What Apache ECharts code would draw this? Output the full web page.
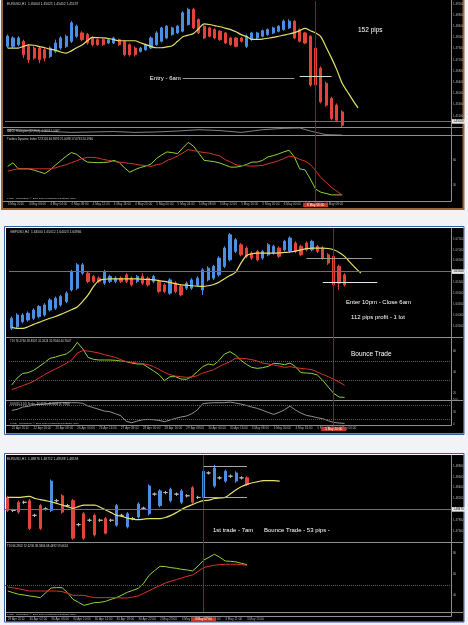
<!DOCTYPE html>
<html>
<head>
<meta charset="utf-8">
<script src="https://cdn.jsdelivr.net/npm/echarts@6.0.0/dist/echarts.min.js"></script>
<style>
html,body{margin:0;padding:0;background:#f1f3f7;}
#chart{width:468px;height:625px;}
</style>
</head>
<body>
<div id="chart"></div>
<script>
// ---- panel 1 : EURUSD H1, the 6am drop ----
var candles1 = [
  [1.4768,1.4804,1.4762,1.4810],[1.4768,1.4798,1.4762,1.4804],[1.4774,1.4798,1.4768,1.4804],
  [1.4786,1.4738,1.4726,1.4792],[1.4768,1.4720,1.4708,1.4774],[1.4762,1.4726,1.4720,1.4768],
  [1.4762,1.4720,1.4708,1.4768],[1.4756,1.4726,1.4714,1.4762],[1.4732,1.4762,1.4726,1.4768],
  [1.4750,1.4780,1.4744,1.4792],[1.4762,1.4798,1.4756,1.4804],[1.4768,1.4804,1.4762,1.4810],
  [1.4786,1.4852,1.4780,1.4858],[1.4804,1.4840,1.4798,1.4846],[1.4816,1.4792,1.4786,1.4822],
  [1.4810,1.4780,1.4774,1.4816],[1.4798,1.4774,1.4768,1.4804],[1.4792,1.4774,1.4770,1.4796],
  [1.4792,1.4774,1.4770,1.4796],[1.4780,1.4792,1.4776,1.4796],[1.4780,1.4798,1.4776,1.4802],
  [1.4792,1.4774,1.4770,1.4796],[1.4786,1.4738,1.4732,1.4788],[1.4774,1.4738,1.4732,1.4778],
  [1.4762,1.4738,1.4732,1.4768],[1.4750,1.4762,1.4746,1.4766],[1.4756,1.4774,1.4752,1.4778],
  [1.4762,1.4798,1.4758,1.4804],[1.4774,1.4816,1.4770,1.4822],[1.4786,1.4834,1.4782,1.4838],
  [1.4798,1.4840,1.4794,1.4844],[1.4810,1.4834,1.4806,1.4838],[1.4816,1.4840,1.4812,1.4844],
  [1.4822,1.4888,1.4818,1.4894],[1.4846,1.4900,1.4842,1.4906],[1.4900,1.4834,1.4830,1.4906],
  [1.4864,1.4816,1.4812,1.4868],[1.4840,1.4798,1.4794,1.4844],[1.4834,1.4804,1.4800,1.4838],
  [1.4828,1.4798,1.4794,1.4832],[1.4822,1.4792,1.4788,1.4826],[1.4816,1.4780,1.4776,1.4820],
  [1.4798,1.4774,1.4770,1.4802],[1.4798,1.4768,1.4764,1.4802],[1.4798,1.4786,1.4782,1.4802],
  [1.4768,1.4804,1.4762,1.4810],[1.4792,1.4816,1.4788,1.4820],[1.4798,1.4816,1.4794,1.4820],
  [1.4804,1.4824,1.4800,1.4828],[1.4810,1.4828,1.4806,1.4832],[1.4816,1.4834,1.4812,1.4838],
  [1.4822,1.4840,1.4818,1.4844],[1.4828,1.4858,1.4824,1.4864],[1.4834,1.4858,1.4830,1.4864],
  [1.4858,1.4798,1.4794,1.4862],[1.4828,1.4786,1.4782,1.4832],[1.4816,1.4780,1.4776,1.4820],
  [1.4804,1.4630,1.4624,1.4808],[1.4762,1.4630,1.4618,1.4768],[1.4690,1.4570,1.4564,1.4696],
  [1.4636,1.4558,1.4552,1.4642],[1.4582,1.4510,1.4504,1.4588],[1.4558,1.4504,1.4498,1.4564],
  [1.4534,1.4486,1.4480,1.4540]
];
var ma1 = [1.4762,1.4762,1.4762,1.4768,1.4773,1.4772,1.4767,1.4763,1.4758,1.4754,
  1.4748,1.4744,1.4752,1.4763,1.4773,1.4788,1.4800,1.4799,1.4798,1.4796,
  1.4792,1.4788,1.4788,1.4788,1.4788,1.4781,1.4774,1.4768,1.4763,1.4763,
  1.4766,1.4770,1.4786,1.4802,1.4808,1.4814,1.4832,1.4848,1.4846,1.4842,
  1.4838,1.4833,1.4828,1.4820,1.4810,1.4803,1.4793,1.4793,1.4794,1.4797,
  1.4800,1.4804,1.4808,1.4812,1.4817,1.4824,1.4832,1.4824,1.4816,1.4802,
  1.4764,1.4726,1.4684,1.4636,1.4606,1.4576,1.4548];
var small1 = [[0,70],[4,65],[8,50],[12,40],[16,45],[20,50],[24,40],[28,45],[32,55],
  [36,70],[40,60],[44,40],[48,70],[52,85],[55,90],[57,55],[60,15],[63,10]];
var green1 = [52.5,57.1,49.6,49.6,49.6,47.9,45.8,43.7,48.3,54.2,
  59.6,65.0,69.6,67.5,62.1,57.9,57.5,57.1,57.5,57.9,
  60.0,57.5,50.8,45.4,48.7,51.2,52.9,55.4,62.1,66.7,
  70.4,69.6,68.3,75.4,82.1,77.5,68.8,60.0,59.2,58.3,
  56.7,54.2,51.7,51.7,52.9,55.0,57.9,57.9,60.0,64.2,
  65.8,67.9,70.4,72.5,64.2,49.6,48.3,37.1,24.6,20.8,
  19.2,17.5,17.5,17.5];
var red1 = [46.7,48.3,49.6,49.6,49.6,49.6,49.6,49.6,49.6,50.8,
  52.9,54.6,57.1,59.6,62.1,63.7,63.7,62.9,61.2,60.0,
  58.7,57.9,57.1,56.2,55.4,54.2,53.7,52.5,54.6,55.8,
  60.0,62.1,65.4,69.2,73.3,72.1,70.8,69.6,68.8,67.1,
  65.4,60.8,57.9,54.6,53.7,53.3,52.9,53.3,53.7,55.8,
  57.5,59.6,62.1,65.4,64.2,61.2,59.2,55.0,47.5,38.7,
  32.9,26.7,22.1,17.5];
var timeLabels1 = ['3 May 2010','4 May 00:00','4 May 04:00','4 May 08:00','4 May 12:00','4 May 16:00',
  '4 May 20:00','5 May 00:00','5 May 04:00','5 May 08:00','5 May 12:00','5 May 16:00',
  '5 May 20:00','6 May 00:00','6 May 04:00','6 May 08:00'];

// ---- panel 2 : GBPUSD H4 ----
var candles2 = [
  [1.6340,1.6386,1.6332,1.6394],[1.6347,1.6401,1.6340,1.6409],[1.6370,1.6401,1.6363,1.6409],
  [1.6378,1.6409,1.6370,1.6417],[1.6386,1.6424,1.6378,1.6432],[1.6394,1.6440,1.6386,1.6447],
  [1.6401,1.6447,1.6394,1.6455],[1.6424,1.6470,1.6417,1.6478],[1.6432,1.6478,1.6424,1.6486],
  [1.6447,1.6486,1.6440,1.6493],[1.6463,1.6501,1.6455,1.6509],[1.6516,1.6601,1.6509,1.6608],
  [1.6524,1.6631,1.6516,1.6639],[1.6593,1.6631,1.6585,1.6639],[1.6593,1.6555,1.6547,1.6601],
  [1.6578,1.6555,1.6547,1.6585],[1.6570,1.6555,1.6547,1.6578],[1.6547,1.6601,1.6539,1.6608],
  [1.6555,1.6578,1.6547,1.6585],[1.6555,1.6570,1.6547,1.6578],[1.6570,1.6555,1.6547,1.6578],
  [1.6585,1.6555,1.6547,1.6593],[1.6570,1.6539,1.6532,1.6578],[1.6555,1.6578,1.6547,1.6585],
  [1.6578,1.6547,1.6539,1.6593],[1.6570,1.6539,1.6532,1.6578],[1.6555,1.6578,1.6547,1.6585],
  [1.6555,1.6509,1.6501,1.6562],[1.6539,1.6509,1.6501,1.6547],[1.6501,1.6562,1.6493,1.6570],
  [1.6547,1.6509,1.6501,1.6555],[1.6532,1.6493,1.6486,1.6539],[1.6524,1.6547,1.6516,1.6555],
  [1.6524,1.6562,1.6516,1.6570],[1.6539,1.6570,1.6532,1.6578],[1.6516,1.6608,1.6493,1.6616],
  [1.6562,1.6616,1.6555,1.6624],[1.6570,1.6624,1.6562,1.6631],[1.6585,1.6662,1.6578,1.6670],
  [1.6624,1.6708,1.6616,1.6716],[1.6654,1.6769,1.6647,1.6777],[1.6693,1.6746,1.6685,1.6754],
  [1.6723,1.6677,1.6670,1.6731],[1.6708,1.6670,1.6662,1.6716],[1.6685,1.6662,1.6654,1.6693],
  [1.6693,1.6654,1.6647,1.6700],[1.6662,1.6693,1.6654,1.6700],[1.6677,1.6723,1.6670,1.6731],
  [1.6685,1.6716,1.6677,1.6723],[1.6708,1.6670,1.6662,1.6716],[1.6700,1.6739,1.6693,1.6746],
  [1.6693,1.6754,1.6685,1.6762],[1.6731,1.6693,1.6685,1.6739],[1.6716,1.6677,1.6670,1.6723],
  [1.6731,1.6700,1.6693,1.6739],[1.6700,1.6739,1.6693,1.6746],[1.6716,1.6693,1.6685,1.6723],
  [1.6708,1.6662,1.6654,1.6716],[1.6677,1.6639,1.6631,1.6685],[1.6670,1.6539,1.6524,1.6677],
  [1.6624,1.6547,1.6516,1.6631],[1.6585,1.6539,1.6532,1.6593]
];
var ma2 = [1.6344,1.6340,1.6340,1.6347,1.6358,1.6367,1.6377,1.6386,1.6394,1.6404,
  1.6415,1.6426,1.6438,1.6463,1.6493,1.6532,1.6559,1.6565,1.6567,1.6567,
  1.6567,1.6567,1.6567,1.6567,1.6565,1.6564,1.6562,1.6559,1.6555,1.6550,
  1.6545,1.6539,1.6538,1.6535,1.6533,1.6532,1.6535,1.6541,1.6551,1.6567,
  1.6582,1.6596,1.6639,1.6673,1.6682,1.6685,1.6685,1.6685,1.6685,1.6686,
  1.6688,1.6690,1.6694,1.6700,1.6705,1.6708,1.6708,1.6708,1.6706,1.6700,
  1.6688,1.6670,1.6642,1.6616,1.6593];
var green2 = [27.9,34.5,38.9,39.6,41.8,45.3,49.1,53.2,54.4,56.0,
  57.3,61.1,68.3,62.3,54.1,52.2,51.6,51.6,51.6,51.3,
  50.6,50.0,48.7,47.8,47.8,44.6,41.2,37.7,32.0,35.8,
  35.8,33.6,33.3,35.8,40.5,45.3,47.8,46.8,51.3,57.3,
  59.5,56.3,51.3,47.5,44.6,43.7,44.3,45.6,48.4,48.1,
  47.2,48.7,45.3,39.6,39.3,38.9,37.4,32.3,26.0,20.0,
  16.5,16.2];
var red2 = [23.5,25.4,27.3,29.2,31.4,34.5,37.7,40.5,43.1,45.6,
  48.4,51.6,58.2,60.4,60.1,59.2,58.2,56.6,55.4,54.1,
  51.9,50.0,49.4,48.7,48.1,47.2,45.3,42.7,39.9,37.7,
  36.4,35.8,35.2,35.5,36.7,39.3,40.8,42.4,45.3,47.8,
  50.0,53.2,53.2,52.8,51.9,50.6,48.7,47.8,46.8,45.9,
  44.6,45.3,44.3,43.7,43.1,42.4,40.2,38.0,35.8,33.3,
  30.7,27.6];
var dss2 = [58.6,62.9,72.9,75.7,81.4,84.3,85.7,88.6,90.0,91.4,
  91.4,91.4,91.4,88.6,77.1,70.0,62.9,55.7,52.9,44.3,
  35.7,11.4,5.7,12.9,18.6,20.0,18.6,15.7,10.0,17.1,
  24.3,30.0,34.3,44.3,60.0,87.1,90.0,91.4,91.4,91.4,
  94.3,90.0,85.7,80.0,72.9,67.1,58.6,50.0,41.4,50.0,
  61.4,77.1,60.0,47.1,37.1,32.9,27.1,22.9,14.3,7.1,
  4.3,2.9];
var timeLabels2 = ['22 Apr 2010','22 Apr 16:00','23 Apr 08:00','26 Apr 00:00','26 Apr 16:00','27 Apr 08:00',
  '28 Apr 00:00','28 Apr 16:00','29 Apr 08:00','30 Apr 00:00','30 Apr 16:00','3 May 08:00',
  '4 May 00:00','4 May 16:00','5 May 08:00','6 May 00:00'];

// ---- panel 3 : EURUSD H1, 1st trade 7am ----
var bars3 = [
  [1.4822,1.4798,1.4795,1.4825],[1.4798,1.4798,1.4795,1.4801],[1.4813,1.4795,1.4792,1.4816],
  [1.4813,1.4813,1.4810,1.4816],[1.4816,1.4765,1.4762,1.4819],[1.4789,1.4789,1.4786,1.4792],
  [1.4807,1.4765,1.4762,1.4810],[1.4801,1.4801,1.4798,1.4804],[1.4798,1.4852,1.4795,1.4855],
  [1.4816,1.4816,1.4813,1.4819],[1.4825,1.4795,1.4792,1.4828],[1.4807,1.4807,1.4804,1.4810],
  [1.4816,1.4747,1.4744,1.4819],[1.4772,1.4772,1.4769,1.4775],[1.4792,1.4747,1.4744,1.4795],
  [1.4780,1.4780,1.4777,1.4783],[1.4789,1.4753,1.4750,1.4792],[1.4780,1.4780,1.4777,1.4783],
  [1.4783,1.4756,1.4754,1.4786],[1.4780,1.4780,1.4777,1.4783],[1.4771,1.4807,1.4768,1.4810],
  [1.4789,1.4789,1.4786,1.4792],[1.4768,1.4792,1.4765,1.4795],[1.4783,1.4783,1.4780,1.4786],
  [1.4786,1.4810,1.4783,1.4813],[1.4802,1.4802,1.4799,1.4805],[1.4792,1.4843,1.4789,1.4846],
  [1.4828,1.4828,1.4825,1.4831],[1.4807,1.4834,1.4804,1.4837],[1.4831,1.4831,1.4828,1.4834],
  [1.4816,1.4837,1.4813,1.4840],[1.4828,1.4828,1.4825,1.4831],[1.4813,1.4834,1.4810,1.4837],
  [1.4825,1.4825,1.4822,1.4828],[1.4840,1.4813,1.4810,1.4843],[1.4822,1.4822,1.4819,1.4825],
  [1.4822,1.4870,1.4819,1.4873],[1.4867,1.4867,1.4864,1.4870],[1.4843,1.4876,1.4840,1.4882],
  [1.4858,1.4858,1.4855,1.4861],[1.4852,1.4870,1.4849,1.4873],[1.4861,1.4861,1.4858,1.4864],
  [1.4852,1.4867,1.4849,1.4870],[1.4858,1.4858,1.4855,1.4861],[1.4858,1.4846,1.4843,1.4861]
];
var ma3 = [1.4822,1.4822,1.4822,1.4823,1.4824,1.4820,1.4818,1.4816,1.4814,1.4811,
  1.4808,1.4805,1.4802,1.4805,1.4808,1.4808,1.4808,1.4804,1.4799,1.4794,
  1.4789,1.4787,1.4784,1.4782,1.4781,1.4782,1.4783,1.4783,1.4783,1.4785,
  1.4789,1.4794,1.4800,1.4805,1.4809,1.4813,1.4816,1.4817,1.4820,1.4821,
  1.4822,1.4829,1.4836,1.4842,1.4846,1.4849,1.4851,1.4853,1.4853,1.4853,1.4852];
var green3 = [44.3,42.7,41.2,40.5,39.6,38.9,38.0,42.7,47.2,47.5,
  47.5,42.7,36.4,33.6,30.7,32.0,33.3,33.6,34.5,36.4,
  38.0,40.5,43.1,44.9,46.8,51.6,59.2,63.6,67.7,67.4,
  66.4,65.8,64.8,64.2,63.3,68.0,73.4,76.2,79.1,76.2,
  72.7,72.4,71.8,70.5,69.3];
var red3 = [48.1,47.2,46.5,45.3,44.3,44.3,44.3,44.3,44.3,44.3,
  43.7,42.1,40.2,40.2,40.2,38.9,38.0,38.0,38.0,38.0,
  38.0,37.7,37.7,38.6,39.6,42.1,44.6,47.2,49.4,51.9,
  53.5,55.1,56.6,58.2,59.5,62.9,66.4,67.7,68.6,69.3,
  69.6,69.6,69.6,69.3,68.6];
var timeLabels3 = ['29 Apr 2010','30 Apr 02:00','30 Apr 06:00','30 Apr 10:00','30 Apr 14:00','30 Apr 18:00',
  '30 Apr 22:00','2 May 23:00','3 May 03:00','3 May 07:00','3 May 11:00','3 May 15:00'];

var FONT = 'Liberation Sans';
var UP = '#4a8fe3', DOWN = '#e2443c', MA = '#e4e06a', TG = '#8fd43a', TR = '#d9322b', VLINE = '#7d2222';
var AXIS_TXT = '#b4b4b4';

// left, top, width, height of every pane
var GRIDS = [
  [5,1,446,126],[5,127,446,9],[5,136,446,65],
  [9,228,442,109],[9,337,442,63],[9,400,442,25],
  [5,455,446,87],[5,542,446,70],[5,612,446,4]
];
var SLOTS = [84,84,84,81,81,81,82,82,82];

function cats(n){
  var a = [];
  for (var i = 0; i < n; i++) a.push(String(i));
  return a;
}

function xAx(gi, labels){
  var ax = {type:'category', gridIndex:gi, data:cats(SLOTS[gi]), boundaryGap:true,
    axisLine:{show:false}, axisTick:{show:false}, splitLine:{show:false}, axisLabel:{show:false}};
  if (labels) {
    ax.axisLabel = {show:true, interval:3, align:'left', margin:1.8, fontSize:3.1, color:AXIS_TXT, fontFamily:FONT,
      formatter:function(v, i){ return labels[i / 4] || ''; }};
  }
  return ax;
}

function yLabels(fmt){
  var l = {show:true, fontSize:2.9, color:AXIS_TXT, margin:2, fontFamily:FONT, showMaxLabel:false, showMinLabel:false};
  if (fmt) l.formatter = fmt;
  return l;
}
function yAx(gi, min, max, extra){
  var ax = {type:'value', gridIndex:gi, position:'right', min:min, max:max, scale:true,
    axisLine:{show:false}, axisTick:{show:false}, splitLine:{show:false}, axisLabel:yLabels()};
  if (extra) {
    for (var k in extra) ax[k] = extra[k];
  }
  return ax;
}

function price5(v){ return v.toFixed(5); }

// vertical period line, with the red date box on the lowest pane
function vMark(idx, box, dist){
  return {xAxis:idx, lineStyle:{color:VLINE, width:1, type:'solid'},
    label: box ? {show:true, position:'start', formatter:box, color:'#fff', backgroundColor:'#c8372d',
      fontSize:3.1, fontFamily:FONT, padding:[0.6,4], distance:dist || 1.8} : {show:false}};
}
function seg(a, b, price, color, text){
  return [{coord:[a, price], lineStyle:{color:color, width:1, type:'solid'},
    label: text ? {show:true, position:'start', formatter:text, color:'#fff', fontSize:6, fontFamily:FONT, distance:2} : {show:false}},
    {coord:[b, price]}];
}
function priceLine(price){
  return {yAxis:price, lineStyle:{color:'#707070', width:1, type:'solid'},
    label:{show:true, position:'end', formatter:price5(price), color:'#000', backgroundColor:'#e8e8e8',
      fontSize:2.9, fontFamily:FONT, padding:[0.8,1.2], distance:1}};
}
function level(v){
  return {yAxis:v, lineStyle:{color:'#5c5c5c', width:1, type:'dotted'}, label:{show:false}};
}
function marks(list){
  return {silent:true, symbol:['none','none'], animation:false, data:list};
}

function candles(gi, data, width, up, down){
  return {type:'candlestick', xAxisIndex:gi, yAxisIndex:gi, data:data, barWidth:width,
    itemStyle:{color:up, color0:down, borderColor:up, borderColor0:down, borderWidth:1}};
}
function line(gi, data, color, width, smooth){
  return {type:'line', xAxisIndex:gi, yAxisIndex:gi, data:data, showSymbol:false, smooth:smooth || false,
    lineStyle:{color:color, width:width}, itemStyle:{color:color}};
}

// panel 3 has thin doji dashes between the real candles
var bodies3 = bars3.map(function(b){ return b[0] === b[1] ? '-' : b; });
var dojis3 = bars3.map(function(b){ return b[0] === b[1] ? b : '-'; });

var s = [];
// 0..4 panel 1
var c1 = candles(0, candles1, 2.6, UP, DOWN);
c1.markLine = marks([vMark(58), seg(33, 54, 1.4654, '#9a9a9a', 'Entry - 6am'), seg(55, 61, 1.4660, '#d8d8d8'),
  seg(58, 67, 1.4502, '#e6e6e6'), priceLine(1.4502)]);
s.push(c1);
s.push(line(0, ma1, MA, 1.2, 0.3));
var sm1 = line(1, small1, '#a0a0a0', 0.8);
sm1.markLine = marks([vMark(58)]);
s.push(sm1);
var g1 = line(2, green1, TG, 1);
g1.markLine = marks([vMark(58, '6 May 06:00')]);
s.push(g1);
s.push(line(2, red1, TR, 1));
// 5..9 panel 2
var c2 = candles(3, candles2, 2.8, UP, DOWN);
c2.markLine = marks([vMark(59), seg(54, 66, 1.6662, '#9a9a9a'), seg(57, 67, 1.6550, '#e6e6e6'), priceLine(1.6550)]);
s.push(c2);
s.push(line(3, ma2, MA, 1.2, 0.3));
var g2 = line(4, green2, TG, 1);
g2.markLine = marks([vMark(59), level(50), level(32)]);
s.push(g2);
s.push(line(4, red2, TR, 1));
var d2 = line(5, dss2, '#a0a0a0', 0.9);
d2.markLine = marks([vMark(59, '5 May 20:00'), level(80), level(20)]);
s.push(d2);
// 10..14 panel 3
var c3 = candles(6, bodies3, 2.6, UP, DOWN);
c3.markLine = marks([vMark(36), seg(36, 44, 1.4880, '#a8a8a8'), seg(36, 44, 1.4823, '#a8a8a8'), priceLine(1.4847)]);
s.push(c3);
s.push(candles(6, dojis3, 4.5, '#b8b8b8', '#b8b8b8'));
s.push(line(6, ma3, MA, 1.2, 0.3));
var g3 = line(7, green3, TG, 1);
g3.markLine = marks([vMark(36, '3 May 07:00', 5.5), level(50)]);
s.push(g3);
s.push(line(7, red3, TR, 1));

var xAxes = [xAx(0), xAx(1), xAx(2, timeLabels1), xAx(3), xAx(4), xAx(5, timeLabels2), xAx(6), xAx(7), xAx(8, timeLabels3)];
var yAxes = [
  yAx(0, 1.4480, 1.4930, {interval:0.004, axisLabel:yLabels(price5)}),
  yAx(1, 0, 100, {axisLabel:{show:false}}),
  yAx(2, 10, 90, {splitNumber:3}),
  yAx(3, 1.6300, 1.6800, {interval:0.005, axisLabel:yLabels(price5)}),
  yAx(4, 13.7, 73.4, {splitNumber:3}),
  yAx(5, -4, 103, {splitNumber:2}),
  yAx(6, 1.4740, 1.4900, {interval:0.002, axisLabel:yLabels(price5)}),
  yAx(7, 24.4, 90.7, {splitNumber:3}),
  yAx(8, 0, 100, {axisLabel:{show:false}})
];

function txt(x, y, t, size, color){
  return {type:'text', left:x, top:y, z:100, silent:true,
    style:{text:t, fill:color || '#cfcfcf', fontSize:size || 3.3, fontFamily:FONT}};
}
function hl(x1, y1, x2, y2){
  return {type:'line', z:1, silent:true, shape:{x1:x1, y1:y1, x2:x2, y2:y2}, style:{stroke:'#8e8e8e', lineWidth:1}};
}

var graphic = [
  // window frames
  {type:'rect', z:-5, silent:true, shape:{x:2, y:-1, width:461.5, height:210}, style:{fill:'#000', stroke:'#9a6538', lineWidth:2}},
  {type:'rect', z:-5, silent:true, shape:{x:4.5, y:226.5, width:459.5, height:208}, style:{fill:'#fff', stroke:'#3a5ca8', lineWidth:1}},
  {type:'rect', z:-4, silent:true, shape:{x:6, y:228, width:457.5, height:205.5}, style:{fill:'#000'}},
  {type:'rect', z:-5, silent:true, shape:{x:4.5, y:453.5, width:459.5, height:168.5}, style:{fill:'#fff', stroke:'#3a5ca8', lineWidth:1}},
  {type:'rect', z:-4, silent:true, shape:{x:6, y:455, width:457.5, height:166.5}, style:{fill:'#000'}},
  // pane separators and price scale divider
  hl(451.5, 0, 451.5, 201.5), hl(3, 127.5, 463, 127.5), hl(3, 135.5, 463, 135.5), hl(3, 201.5, 451.5, 201.5),
  hl(451.5, 228, 451.5, 425.5), hl(6, 337.5, 463, 337.5), hl(6, 400.5, 463, 400.5), hl(6, 425.5, 451.5, 425.5),
  hl(451.5, 455, 451.5, 616.5), hl(6, 542.5, 463, 542.5), hl(6, 612.5, 463, 612.5), hl(6, 616.5, 451.5, 616.5),
  // pane captions
  txt(7, 2.5, 'EURUSD,H1  1.45604 1.45625 1.45402 1.45537'),
  txt(7, 129.5, 'MACD Histogram(12,26,9) -0.0003 1.0007', 2.8),
  txt(7, 138, 'Traders Dynamic Index 72.9126 46.9693 21.0098 17.0733 20.1960', 2.9),
  txt(7, 196.5, 'FXDD - MetaTrader, \u00a9 2001-2010 MetaQuotes Software Corp.', 2.5),
  txt(10, 231, 'GBPUSD,H4  1.64500 1.65012 1.64023 1.64966'),
  txt(10, 340, 'TDI 76.2760 58.8307 41.2624 32.9044 44.7607', 2.9),
  txt(10, 403, 'DSS(55,3,10) Scale -44.4019 -49.8032 (1.7780)', 2.8),
  txt(10, 421.5, 'FXDD - MetaTrader, \u00a9 2001-2010 MetaQuotes Software Corp.', 2.5),
  txt(7, 458, 'EURUSD,H1  1.48876 1.48712 1.48598 1.48594'),
  txt(7, 545, 'TDI 66.2802 52.6236 38.5866 68.4492 59.6624', 2.9),
  txt(7, 612.8, 'FXDD - MetaTrader, \u00a9 2001-2010 MetaQuotes Software Corp.', 2.5),
  // trade notes
  txt(358, 27, '152 pips', 6.5, '#ffffff'),
  txt(346, 299, 'Enter 10pm - Close 6am', 6, '#ffffff'),
  txt(351, 314, '112 pips profit - 1 lot', 6, '#ffffff'),
  txt(351, 351, 'Bounce Trade', 6.5, '#ffffff'),
  txt(213, 527, '1st trade - 7am', 6, '#ffffff'),
  txt(264, 527, 'Bounce Trade - 53 pips -', 6, '#ffffff')
];

var chart = echarts.init(document.getElementById('chart'), null, {renderer:'canvas'});
chart.setOption({
  backgroundColor:'#f1f3f7',
  animation:false,
  grid: GRIDS.map(function(g){ return {left:g[0], top:g[1], width:g[2], height:g[3], show:false}; }),
  xAxis: xAxes,
  yAxis: yAxes,
  visualMap: [
    {show:false, type:'piecewise', seriesIndex:2, dimension:1,
      pieces:[{gt:80, color:TR}, {lt:20, color:TR}], outOfRange:{color:'#a0a0a0'}},
    {show:false, type:'piecewise', seriesIndex:9, dimension:1,
      pieces:[{gte:90, color:TR}, {lte:8, color:TR}], outOfRange:{color:'#a0a0a0'}}
  ],
  series: s,
  graphic: graphic
});
</script>
</body>
</html>
